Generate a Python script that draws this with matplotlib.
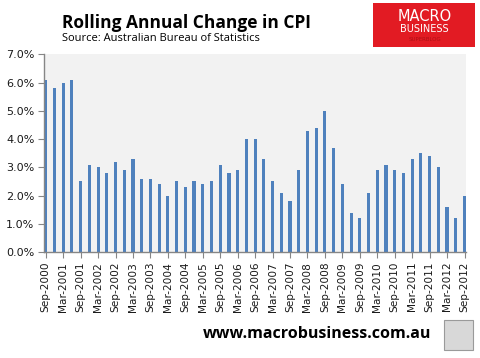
"""Rolling annual change in CPI, quarterly bars Sep-2000 to Sep-2012."""

import matplotlib

matplotlib.use("Agg")
import matplotlib.pyplot as plt
from matplotlib.patches import Rectangle
from matplotlib.ticker import FuncFormatter

# Quarter labels (every quarter) and rolling annual CPI change, in percent.
QUARTERS = [
    f"{m}-{y}"
    for y in range(2000, 2013)
    for m in ("Mar", "Jun", "Sep", "Dec")
][2:-1]

CPI_CHANGE = [
    6.1, 5.8, 6.0, 6.1, 2.5, 3.1, 3.0, 2.8, 3.2, 2.9,
    3.3, 2.6, 2.6, 2.4, 2.0, 2.5, 2.3, 2.5, 2.4, 2.5,
    3.1, 2.8, 2.9, 4.0, 4.0, 3.3, 2.5, 2.1, 1.8, 2.9,
    4.3, 4.4, 5.0, 3.7, 2.4, 1.4, 1.2, 2.1, 2.9, 3.1,
    2.9, 2.8, 3.3, 3.5, 3.4, 3.0, 1.6, 1.2, 2.0,
]

Y_TICKS = [0, 1, 2, 3, 4, 5, 6, 7]

BAR_COLOR = "#4F81BD"
AXIS_COLOR = "#868686"
PLOT_BG = "#F2F2F2"


def main() -> None:
    fig = plt.figure(figsize=(4.8, 3.58), dpi=100)
    ax = fig.add_axes([0.092, 0.296, 0.879, 0.552])
    ax.set_facecolor(PLOT_BG)

    positions = range(len(CPI_CHANGE))
    ax.bar(positions, CPI_CHANGE, width=0.36, color=BAR_COLOR, zorder=2)

    ax.set_xlim(-0.18, len(CPI_CHANGE) - 1 + 0.18)
    ax.set_ylim(0, 7)
    ax.set_yticks(Y_TICKS)
    ax.yaxis.set_major_formatter(FuncFormatter(lambda v, _: f"{v:.1f}%"))

    tick_pos = list(range(0, len(QUARTERS), 2))
    ax.set_xticks(tick_pos)
    ax.set_xticklabels([QUARTERS[i] for i in tick_pos], rotation=90)

    for side in ("top", "right"):
        ax.spines[side].set_visible(False)
    for side in ("left", "bottom"):
        ax.spines[side].set_color(AXIS_COLOR)
        ax.spines[side].set_linewidth(1.0)

    ax.tick_params(axis="y", direction="out", length=4, color=AXIS_COLOR,
                   labelsize=8, labelcolor="#1a1a1a", pad=3)
    ax.tick_params(axis="x", direction="out", length=4, color=AXIS_COLOR,
                   labelsize=7.6, labelcolor="#1a1a1a", pad=3)

    # Header text
    fig.text(0.129, 0.935, "Rolling Annual Change in CPI", fontsize=12.5,
             fontweight="bold", family="Open Sans", va="center")
    fig.text(0.129, 0.893, "Source: Australian Bureau of Statistics",
             fontsize=8, family="Open Sans", va="center")

    # Logo box, top right
    fig.patches.append(Rectangle((0.778, 0.868), 0.212, 0.124,
                                 transform=fig.transFigure,
                                 facecolor="#E21B23", edgecolor="none"))
    fig.text(0.885, 0.955, "MACRO", color="white", fontsize=10.5,
             ha="center", va="center", family="DejaVu Sans")
    fig.text(0.885, 0.918, "BUSINESS", color="white", fontsize=7,
             ha="center", va="center", family="DejaVu Sans")
    fig.text(0.885, 0.889, "SUPERBLOG", color="#B01015", fontsize=4,
             ha="center", va="center", family="DejaVu Sans")

    # Footer
    fig.text(0.422, 0.068, "www.macrobusiness.com.au", fontsize=11.5,
             fontweight="bold", family="Open Sans", va="center")
    fig.patches.append(Rectangle((0.925, 0.022), 0.060, 0.085,
                                 transform=fig.transFigure,
                                 facecolor="#D8D8D8", edgecolor="#9A9A9A",
                                 linewidth=0.8))

    fig.savefig("out.png", dpi=100)
    plt.close(fig)


if __name__ == "__main__":
    main()
